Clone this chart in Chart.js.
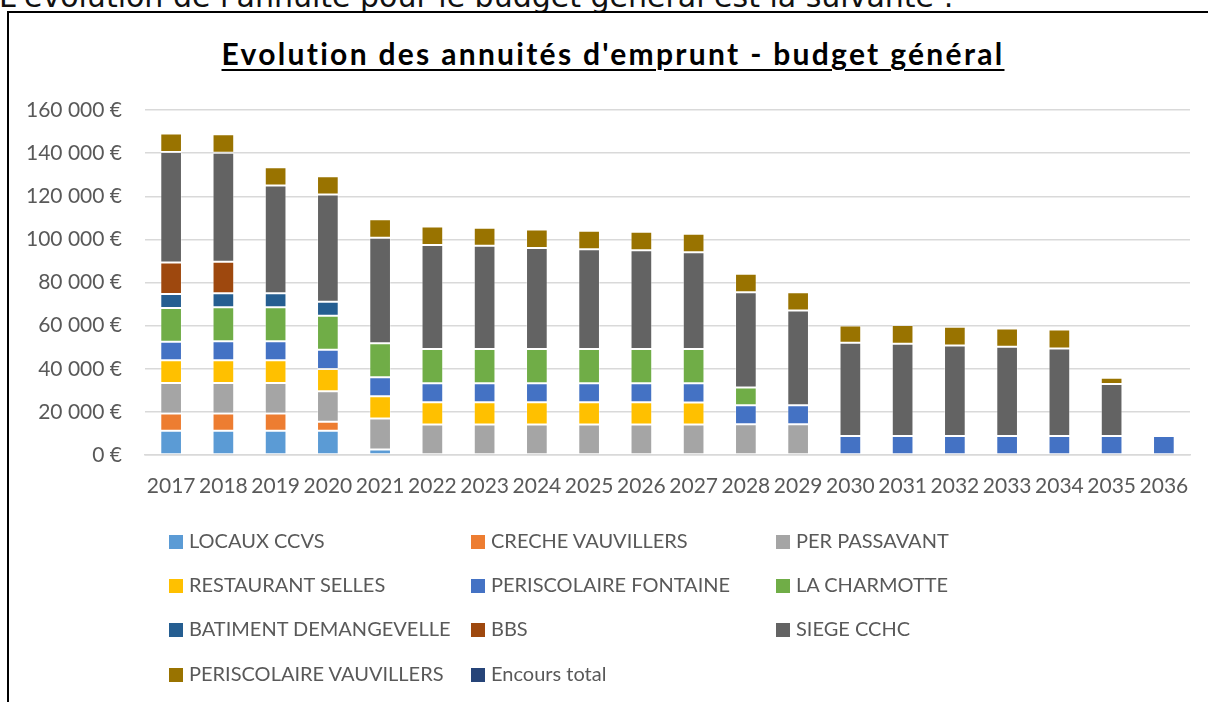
<!DOCTYPE html>
<html>
<head>
<meta charset="utf-8">
<script src="https://cdn.jsdelivr.net/npm/chart.js@4/dist/chart.umd.min.js"></script>
<style>
    body { margin: 0; background: #fff; }
    #page { position: relative; width: 1208px; height: 702px; overflow: hidden; background: #fff; }
    #intro { position: absolute; left: -1px; top: -21px; font-family: "DejaVu Sans", sans-serif; font-size: 30px; line-height: 36px; color: #111; white-space: nowrap; }
    #frame { position: absolute; left: 7px; top: 11px; width: 1220px; height: 720px; border-left: 2px solid #000; border-top: 2px solid #000; }
    #title { position: absolute; left: 13px; width: 1200px; top: 35px; text-align: center; font-family: Lato, sans-serif; font-weight: bold; font-size: 30px; line-height: 36px; letter-spacing: 2.3px; color: #000; text-decoration: underline; text-underline-offset: 4px; text-decoration-thickness: 2px; }
    #chart { position: absolute; left: 0; top: 0; }
    .leg { position: absolute; font-family: Lato, sans-serif; font-size: 20px; color: #595959; white-space: nowrap; line-height: 20px; }
    .leg span { display: inline-block; width: 14px; height: 14px; margin-right: 6px; vertical-align: -1px; }
</style>
</head>
<body>
<div id="page">
    <div id="intro">L'évolution de l'annuité pour le budget général est la suivante :</div>
    <div id="frame"></div>
    <div id="title">Evolution des annuités d'emprunt - budget général</div>
    <canvas id="chart" width="1208" height="702"></canvas>
    <div id="legend"></div>
</div>
<script>
// données (en €)
var years = ['2017','2018','2019','2020','2021','2022','2023','2024','2025','2026',
             '2027','2028','2029','2030','2031','2032','2033','2034','2035','2036'];

var locauxCcvs = [11200, 11200, 11200, 11200, 2600, 0, 0, 0, 0, 0, 0, 0, 0, 0, 0, 0, 0, 0, 0, 0];
var crecheVauvillers = [8000, 8000, 8000, 4200, 0, 0, 0, 0, 0, 0, 0, 0, 0, 0, 0, 0, 0, 0, 0, 0];
var perPassavant = [14200, 14200, 14200, 14200, 14300, 14200, 14200, 14200, 14200, 14200, 14200, 14300, 14300, 0, 0, 0, 0, 0, 0, 0];
var restaurantSelles = [10500, 10500, 10500, 10300, 10300, 10300, 10300, 10300, 10300, 10300, 10100, 0, 0, 0, 0, 0, 0, 0, 0, 0];
var periscolaireFontaine = [8600, 8900, 8900, 8900, 8900, 8800, 8800, 8800, 8800, 8800, 9000, 8800, 8800, 8800, 8800, 8800, 8800, 8800, 8800, 8800];
var laCharmotte = [15700, 15700, 15700, 15800, 15700, 15900, 15900, 15900, 15900, 15900, 15900, 8200, 0, 0, 0, 0, 0, 0, 0, 0];
var batimentDemangevelle = [6500, 6500, 6500, 6500, 0, 0, 0, 0, 0, 0, 0, 0, 0, 0, 0, 0, 0, 0, 0, 0];
var bbs = [14600, 14600, 0, 0, 0, 0, 0, 0, 0, 0, 0, 0, 0, 0, 0, 0, 0, 0, 0, 0];
var siegeCchc = [51200, 50600, 50000, 49700, 49000, 48200, 47800, 46800, 46200, 45800, 44800, 44200, 43900, 43300, 42800, 42000, 41400, 40600, 24100, 0];
var periscolaireVauvillers = [8600, 8600, 8500, 8500, 8500, 8600, 8400, 8600, 8600, 8500, 8600, 8600, 8500, 8000, 8700, 8700, 8500, 8800, 2900, 0];
var encoursTotal = [];

var yTicksMax = 160000;
var yTicksStep = 20000;

var series = [
    { label: 'LOCAUX CCVS', data: locauxCcvs, color: '#5b9bd5' },
    { label: 'CRECHE VAUVILLERS', data: crecheVauvillers, color: '#ed7d31' },
    { label: 'PER PASSAVANT', data: perPassavant, color: '#a5a5a5' },
    { label: 'RESTAURANT SELLES', data: restaurantSelles, color: '#ffc000' },
    { label: 'PERISCOLAIRE FONTAINE', data: periscolaireFontaine, color: '#4472c4' },
    { label: 'LA CHARMOTTE', data: laCharmotte, color: '#70ad47' },
    { label: 'BATIMENT DEMANGEVELLE', data: batimentDemangevelle, color: '#255e91' },
    { label: 'BBS', data: bbs, color: '#9e480e' },
    { label: 'SIEGE CCHC', data: siegeCchc, color: '#636363' },
    { label: 'PERISCOLAIRE VAUVILLERS', data: periscolaireVauvillers, color: '#997300' },
    { label: 'Encours total', data: encoursTotal, color: '#264478' }
];

function euro(v) {
    return String(v).replace(/\B(?=(\d{3})+(?!\d))/g, ' ') + ' €';
}

var datasets = series.map(function (s) {
    return {
        label: s.label,
        data: s.data,
        backgroundColor: s.color,
        borderColor: 'rgba(255,255,255,0.35)',
        borderWidth: 1,
        borderSkipped: false,
        barPercentage: 0.415,
        categoryPercentage: 1
    };
});

var tickFont = { family: 'Lato', size: 21 };

var chart = new Chart(document.getElementById('chart'), {
    type: 'bar',
    data: { labels: years, datasets: datasets },
    options: {
        responsive: false,
        animation: false,
        devicePixelRatio: 1,
        layout: { padding: { top: 110, right: 18, bottom: 197, left: 0 } },
        plugins: {
            legend: { display: false },
            title: { display: false },
            tooltip: { enabled: false }
        },
        scales: {
            x: {
                stacked: true,
                grid: { display: false },
                border: { color: '#d9d9d9', width: 1.5 },
                ticks: { color: '#595959', font: tickFont, padding: 11, maxRotation: 0, autoSkip: false },
                afterFit: function (scale) { scale.height = 50; }
            },
            y: {
                stacked: true,
                min: 0,
                max: yTicksMax,
                grid: { color: '#d9d9d9', lineWidth: 1.5, drawTicks: false },
                border: { display: false },
                ticks: {
                    stepSize: yTicksStep,
                    color: '#595959',
                    font: tickFont,
                    padding: 23,
                    callback: function (v) { return euro(v); }
                },
                afterFit: function (scale) { scale.width = 145; }
            }
        }
    }
});

// légende sur 3 colonnes, comme dans Excel
var legend = document.getElementById('legend');
var colX = [169, 471, 776];
var rowY = [530, 574, 618, 663];
series.forEach(function (s, i) {
    var d = document.createElement('div');
    d.className = 'leg';
    d.style.left = colX[i % 3] + 'px';
    d.style.top = rowY[Math.floor(i / 3)] + 'px';
    d.innerHTML = '<span style="background:' + s.color + '"></span>' + s.label;
    legend.appendChild(d);
});
</script>
</body>
</html>
